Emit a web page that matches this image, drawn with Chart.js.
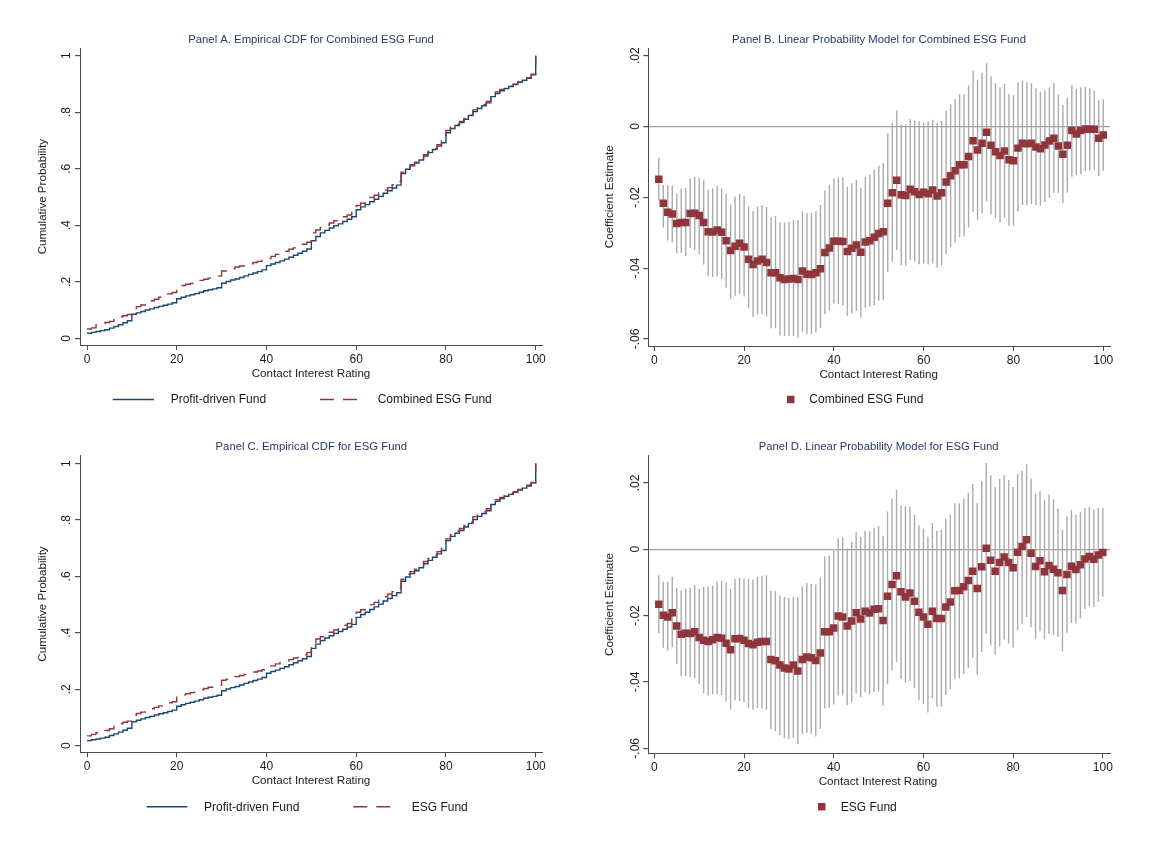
<!DOCTYPE html>
<html><head><meta charset="utf-8">
<script src="https://cdn.jsdelivr.net/npm/chart.js@4.4.1/dist/chart.umd.min.js"></script>
<style>
html,body{margin:0;padding:0;background:#fff;}
body{width:1170px;height:850px;position:relative;overflow:hidden;}
canvas{position:absolute;}
</style></head><body>
<canvas id="pA" width="585" height="425" style="left:0px;top:0px"></canvas>
<canvas id="pB" width="585" height="425" style="left:585px;top:0px"></canvas>
<canvas id="pC" width="585" height="425" style="left:0px;top:425px"></canvas>
<canvas id="pD" width="585" height="425" style="left:585px;top:425px"></canvas>
<script>
// ---------- DATA ----------
const cdfRatings = [0,1,2,3,4,5,6,7,8,9,10,11,12,13,14,15,16,17,18,19,20,21,22,23,24,25,26,27,28,29,30,31,32,33,34,35,36,37,38,39,40,41,42,43,44,45,46,47,48,49,50,51,52,53,54,55,56,57,58,59,60,61,62,63,64,65,66,67,68,69,70,71,72,73,74,75,76,77,78,79,80,81,82,83,84,85,86,87,88,89,90,91,92,93,94,95,96,97,98,99,100];

const profitCdf = [0.018,0.021,0.024,0.027,0.030,0.036,0.042,0.048,0.055,0.062,
0.085,0.090,0.095,0.100,0.104,0.109,0.113,0.117,0.121,0.126,
0.140,0.145,0.150,0.154,0.158,0.163,0.168,0.172,0.175,0.179,
0.195,0.201,0.206,0.210,0.215,0.221,0.226,0.231,0.236,0.242,
0.257,0.263,0.268,0.274,0.280,0.287,0.294,0.301,0.308,0.316,
0.345,0.360,0.373,0.382,0.390,0.398,0.405,0.413,0.421,0.430,
0.455,0.465,0.473,0.483,0.492,0.502,0.513,0.522,0.532,0.542,
0.583,0.598,0.610,0.620,0.631,0.645,0.657,0.668,0.680,0.692,
0.727,0.742,0.753,0.763,0.775,0.788,0.802,0.813,0.823,0.833,
0.855,0.866,0.876,0.884,0.891,0.898,0.906,0.913,0.920,0.932,1.000];

const combinedEsgCdf = [0.033,0.037,0.047,0.052,0.056,0.060,0.070,0.076,0.080,0.084,
0.105,0.112,0.118,0.126,0.133,0.138,0.145,0.152,0.157,0.162,
0.183,0.187,0.191,0.194,0.200,0.205,0.209,0.213,0.217,0.220,
0.238,0.243,0.247,0.252,0.256,0.260,0.264,0.268,0.272,0.276,
0.282,0.290,0.297,0.303,0.308,0.315,0.320,0.326,0.333,0.340,
0.373,0.383,0.392,0.400,0.408,0.416,0.424,0.430,0.436,0.448,
0.470,0.478,0.488,0.498,0.506,0.514,0.524,0.533,0.543,0.555,
0.588,0.603,0.614,0.623,0.635,0.650,0.662,0.672,0.685,0.698,
0.735,0.748,0.757,0.767,0.778,0.790,0.808,0.818,0.827,0.838,
0.862,0.872,0.880,0.887,0.893,0.899,0.907,0.915,0.922,0.934,1.000];

const esgCdf = [0.035,0.040,0.046,0.050,0.054,0.060,0.072,0.078,0.083,0.087,
0.108,0.114,0.119,0.125,0.131,0.136,0.141,0.147,0.152,0.156,
0.175,0.180,0.184,0.188,0.193,0.198,0.203,0.207,0.211,0.214,
0.232,0.236,0.240,0.245,0.249,0.253,0.257,0.261,0.265,0.269,
0.276,0.283,0.290,0.295,0.300,0.305,0.311,0.317,0.322,0.330,
0.365,0.378,0.386,0.393,0.402,0.410,0.420,0.427,0.433,0.448,
0.473,0.482,0.492,0.500,0.508,0.516,0.528,0.537,0.546,0.557,
0.590,0.608,0.617,0.626,0.638,0.653,0.664,0.675,0.688,0.700,
0.733,0.748,0.760,0.770,0.781,0.793,0.812,0.820,0.829,0.840,
0.868,0.872,0.880,0.888,0.894,0.900,0.908,0.916,0.923,0.933,1.000];

const coefRatings = [1,2,3,4,5,6,7,8,9,10,11,12,13,14,15,16,17,18,19,20,21,22,23,24,25,26,27,28,29,30,31,32,33,34,35,36,37,38,39,40,41,42,43,44,45,46,47,48,49,50,51,52,53,54,55,56,57,58,59,60,61,62,63,64,65,66,67,68,69,70,71,72,73,74,75,76,77,78,79,80,81,82,83,84,85,86,87,88,89,90,91,92,93,94,95,96,97,98,99,100];

const coefCombined = [-0.0149,-0.0217,-0.0242,-0.0247,-0.0274,-0.0271,-0.0271,-0.0246,-0.0245,-0.0251,
-0.0271,-0.0297,-0.0298,-0.0292,-0.0299,-0.0323,-0.0350,-0.0338,-0.0330,-0.0340,
-0.0375,-0.0390,-0.0380,-0.0375,-0.0384,-0.0413,-0.0413,-0.0427,-0.0432,-0.0431,
-0.0429,-0.0432,-0.0408,-0.0417,-0.0418,-0.0413,-0.0402,-0.0356,-0.0343,-0.0324,
-0.0324,-0.0325,-0.0353,-0.0344,-0.0335,-0.0355,-0.0326,-0.0323,-0.0313,-0.0302,
-0.0297,-0.0217,-0.0187,-0.0152,-0.0193,-0.0195,-0.0177,-0.0184,-0.0192,-0.0186,
-0.0190,-0.0179,-0.0196,-0.0187,-0.0157,-0.0139,-0.0125,-0.0108,-0.0108,-0.0085,
-0.0040,-0.0066,-0.0047,-0.0016,-0.0053,-0.0071,-0.0082,-0.0069,-0.0094,-0.0097,
-0.0061,-0.0047,-0.0049,-0.0047,-0.0058,-0.0063,-0.0052,-0.0041,-0.0033,-0.0055,
-0.0078,-0.0053,-0.0011,-0.0021,-0.0011,-0.0007,-0.0008,-0.0008,-0.0033,-0.0024];

const ciHighCombined = [-0.0088,-0.0165,-0.0166,-0.0167,-0.0190,-0.0176,-0.0174,-0.0146,-0.0142,-0.0145,
-0.0152,-0.0178,-0.0175,-0.0167,-0.0175,-0.0190,-0.0220,-0.0198,-0.0190,-0.0196,
-0.0225,-0.0239,-0.0226,-0.0222,-0.0227,-0.0258,-0.0253,-0.0270,-0.0272,-0.0269,
-0.0265,-0.0264,-0.0239,-0.0245,-0.0244,-0.0239,-0.0222,-0.0181,-0.0165,-0.0147,
-0.0144,-0.0145,-0.0170,-0.0160,-0.0151,-0.0172,-0.0142,-0.0135,-0.0122,-0.0111,
-0.0104,-0.0019,0.0011,0.0045,0.0005,0.0005,0.0021,0.0017,0.0014,0.0012,
0.0014,0.0019,0.0011,0.0016,0.0045,0.0063,0.0077,0.0092,0.0091,0.0116,
0.0158,0.0132,0.0151,0.0179,0.0142,0.0123,0.0111,0.0121,0.0092,0.0089,
0.0125,0.0130,0.0125,0.0123,0.0108,0.0098,0.0102,0.0111,0.0123,0.0092,
0.0061,0.0081,0.0118,0.0106,0.0111,0.0113,0.0108,0.0102,0.0074,0.0077];

const ciLowCombined = [-0.0209,-0.0285,-0.0322,-0.0327,-0.0358,-0.0357,-0.0366,-0.0343,-0.0349,-0.0360,
-0.0390,-0.0423,-0.0425,-0.0423,-0.0430,-0.0455,-0.0487,-0.0478,-0.0473,-0.0480,
-0.0514,-0.0538,-0.0531,-0.0530,-0.0537,-0.0570,-0.0570,-0.0590,-0.0592,-0.0592,
-0.0592,-0.0597,-0.0580,-0.0587,-0.0586,-0.0582,-0.0569,-0.0530,-0.0519,-0.0500,
-0.0502,-0.0507,-0.0535,-0.0529,-0.0521,-0.0540,-0.0512,-0.0509,-0.0505,-0.0492,
-0.0489,-0.0410,-0.0382,-0.0349,-0.0392,-0.0393,-0.0377,-0.0381,-0.0389,-0.0387,
-0.0390,-0.0387,-0.0399,-0.0392,-0.0360,-0.0340,-0.0328,-0.0313,-0.0311,-0.0285,
-0.0241,-0.0263,-0.0245,-0.0212,-0.0248,-0.0259,-0.0272,-0.0258,-0.0280,-0.0280,
-0.0239,-0.0222,-0.0222,-0.0219,-0.0222,-0.0224,-0.0214,-0.0201,-0.0187,-0.0187,
-0.0216,-0.0187,-0.0142,-0.0137,-0.0134,-0.0125,-0.0124,-0.0123,-0.0140,-0.0125];

const coefEsg = [-0.0166,-0.0199,-0.0204,-0.0191,-0.0231,-0.0256,-0.0253,-0.0254,-0.0249,-0.0266,
-0.0274,-0.0278,-0.0273,-0.0266,-0.0268,-0.0283,-0.0303,-0.0270,-0.0269,-0.0274,
-0.0284,-0.0288,-0.0280,-0.0278,-0.0278,-0.0332,-0.0336,-0.0349,-0.0358,-0.0361,
-0.0349,-0.0367,-0.0332,-0.0325,-0.0327,-0.0335,-0.0313,-0.0249,-0.0249,-0.0237,
-0.0201,-0.0204,-0.0231,-0.0216,-0.0191,-0.0210,-0.0187,-0.0192,-0.0181,-0.0179,
-0.0215,-0.0142,-0.0106,-0.0080,-0.0128,-0.0144,-0.0132,-0.0157,-0.0190,-0.0204,
-0.0226,-0.0187,-0.0209,-0.0209,-0.0174,-0.0159,-0.0125,-0.0124,-0.0113,-0.0094,
-0.0066,-0.0118,-0.0053,0.0003,-0.0033,-0.0066,-0.0040,-0.0023,-0.0040,-0.0056,
-0.0009,0.0008,0.0029,-0.0012,-0.0052,-0.0035,-0.0068,-0.0049,-0.0060,-0.0071,
-0.0124,-0.0076,-0.0051,-0.0061,-0.0047,-0.0029,-0.0022,-0.0030,-0.0017,-0.0010];

const ciHighEsg = [-0.0078,-0.0098,-0.0098,-0.0083,-0.0116,-0.0125,-0.0118,-0.0116,-0.0108,-0.0120,
-0.0113,-0.0112,-0.0110,-0.0098,-0.0095,-0.0100,-0.0120,-0.0089,-0.0086,-0.0088,
-0.0090,-0.0092,-0.0083,-0.0080,-0.0078,-0.0124,-0.0126,-0.0140,-0.0145,-0.0147,
-0.0144,-0.0145,-0.0112,-0.0102,-0.0104,-0.0106,-0.0086,-0.0021,-0.0019,-0.0005,
0.0033,0.0035,0.0003,0.0023,0.0051,0.0037,0.0056,0.0054,0.0064,0.0070,
0.0040,0.0114,0.0152,0.0179,0.0131,0.0129,0.0128,0.0104,0.0072,0.0062,
0.0038,0.0079,0.0056,0.0058,0.0092,0.0104,0.0139,0.0139,0.0152,0.0170,
0.0197,0.0139,0.0205,0.0260,0.0223,0.0187,0.0212,0.0223,0.0209,0.0188,
0.0227,0.0237,0.0256,0.0213,0.0167,0.0175,0.0148,0.0165,0.0150,0.0122,
0.0059,0.0099,0.0119,0.0104,0.0112,0.0124,0.0127,0.0120,0.0124,0.0124];

const ciLowEsg = [-0.0253,-0.0297,-0.0305,-0.0295,-0.0345,-0.0383,-0.0383,-0.0385,-0.0389,-0.0405,
-0.0434,-0.0441,-0.0438,-0.0437,-0.0439,-0.0459,-0.0484,-0.0455,-0.0457,-0.0462,
-0.0479,-0.0484,-0.0479,-0.0480,-0.0484,-0.0542,-0.0548,-0.0560,-0.0569,-0.0573,
-0.0568,-0.0588,-0.0557,-0.0553,-0.0556,-0.0564,-0.0542,-0.0480,-0.0478,-0.0468,
-0.0441,-0.0441,-0.0470,-0.0460,-0.0435,-0.0446,-0.0431,-0.0437,-0.0430,-0.0429,
-0.0472,-0.0407,-0.0365,-0.0340,-0.0391,-0.0402,-0.0397,-0.0418,-0.0455,-0.0467,
-0.0492,-0.0449,-0.0475,-0.0475,-0.0439,-0.0422,-0.0391,-0.0389,-0.0377,-0.0358,
-0.0328,-0.0378,-0.0310,-0.0255,-0.0290,-0.0317,-0.0292,-0.0272,-0.0284,-0.0297,
-0.0244,-0.0225,-0.0204,-0.0234,-0.0270,-0.0247,-0.0272,-0.0255,-0.0258,-0.0264,
-0.0307,-0.0252,-0.0222,-0.0224,-0.0209,-0.0179,-0.0171,-0.0175,-0.0159,-0.0143];

const xTickValues = [0,20,40,60,80,100];
const xTickLabels = ['0','20','40','60','80','100'];
const cdfTickValues = [0,0.2,0.4,0.6,0.8,1];
const cdfTickLabels = ['0','.2','.4','.6','.8','1'];
const coefTickValues = [-0.06,-0.04,-0.02,0,0.02];
const coefTickLabels = ['-.06','-.04','-.02','0','.02'];

// ---------- STYLE ----------
const FONT = '"Liberation Sans", Arial, Helvetica, sans-serif';
const NAVY = '#1a476f';
const MAROON = '#90353b';
const SPIKE = '#ababab';
const AXIS = '#4a4a4a';
const TEXT = '#1a1a1a';
const TITLE = '#27386b';
const RED_DASH = [14, 9];

const decor = {
  id: 'decor',
  afterDraw(chart, args, o) {
    const ctx = chart.ctx;
    const ox = o.ox, oy = o.oy;
    ctx.save();
    ctx.textAlign = 'center';
    ctx.textBaseline = 'middle';
    ctx.fillStyle = TITLE;
    ctx.font = '11.3px ' + FONT;
    ctx.fillText(o.title, o.titleX - ox, o.titleY - oy);
    ctx.fillStyle = TEXT;
    ctx.font = '11.6px ' + FONT;
    ctx.fillText(o.xTitle, o.xTitleX - ox, o.xTitleY - oy);
    ctx.save();
    ctx.translate(o.yTitleX - ox, o.yTitleY - oy);
    ctx.rotate(-Math.PI / 2);
    ctx.fillText(o.yTitle, 0, 0);
    ctx.restore();
    const ys = chart.scales.y;
    ctx.font = '12px ' + FONT;
    o.yTickValues.forEach((v, i) => {
      const py = ys.getPixelForValue(v);
      ctx.save();
      ctx.translate(o.yTickX - ox, py);
      ctx.rotate(-Math.PI / 2);
      ctx.fillText(o.yTickLabels[i], 0, 0);
      ctx.restore();
    });
    ctx.textAlign = 'left';
    ctx.font = '12px ' + FONT;
    o.legend.forEach(it => {
      const y = it.y - oy;
      if (it.kind === 'line') {
        ctx.save();
        ctx.strokeStyle = it.color;
        ctx.lineWidth = 1.4;
        ctx.setLineDash(it.dash || []);
        ctx.beginPath();
        ctx.moveTo(it.x1 - ox, y);
        ctx.lineTo(it.x2 - ox, y);
        ctx.stroke();
        ctx.restore();
      } else {
        ctx.fillStyle = it.color;
        ctx.fillRect(it.cx - ox - it.size / 2, y - it.size / 2, it.size, it.size);
      }
      ctx.fillStyle = TEXT;
      ctx.fillText(it.text, it.tx - ox, y + 0.5);
    });
    ctx.restore();
  }
};

function makePanel(p) {
  const el = document.getElementById(p.id);
  const padTop = p.area.t - p.box.top;
  const padRight = p.box.left + p.box.w - p.area.r;
  const yWidth = p.area.l - p.box.left;
  const xHeight = p.box.top + p.box.h - p.area.b;
  const yGridColor = p.zeroLine
    ? (c => (c.tick && c.tick.value === 0 ? '#a0a0a0' : 'rgba(0,0,0,0)'))
    : 'rgba(0,0,0,0)';
  new Chart(el, {
    type: 'scatter',
    data: { datasets: p.datasets },
    options: {
      responsive: false,
      animation: false,
      devicePixelRatio: 1,
      layout: { autoPadding: false, padding: { left: 0, top: padTop, right: padRight, bottom: 0 } },
      plugins: {
        legend: { display: false },
        tooltip: { enabled: false },
        title: { display: false },
        decor: Object.assign({ ox: p.box.left, oy: p.box.top }, p.decor)
      },
      scales: {
        x: {
          type: 'linear', min: p.xMin, max: p.xMax, offset: false,
          afterFit: s => { s.height = xHeight; },
          afterBuildTicks: s => { s.ticks = xTickValues.map(v => ({ value: v })); },
          ticks: {
            autoSkip: false, maxRotation: 0, minRotation: 0, padding: 2,
            color: TEXT, font: { family: FONT, size: 12 },
            callback: (v) => xTickLabels[xTickValues.indexOf(v)]
          },
          grid: { display: true, drawOnChartArea: false, drawTicks: true, tickLength: 5, tickColor: AXIS, offset: false },
          border: { display: true, color: AXIS, width: 1 }
        },
        y: {
          type: 'linear', min: p.yMin, max: p.yMax,
          afterFit: s => { s.width = yWidth; },
          afterBuildTicks: s => { s.ticks = p.decor.yTickValues.map(v => ({ value: v })); },
          ticks: { display: false },
          grid: { display: true, drawOnChartArea: !!p.zeroLine, color: yGridColor, lineWidth: 1.2, drawTicks: true, tickLength: 5, tickColor: AXIS },
          border: { display: true, color: AXIS, width: 1 }
        }
      }
    },
    plugins: [decor]
  });
}

function cdfLine(values, color, dash, order) {
  return {
    type: 'line',
    data: values.map((v, i) => ({ x: cdfRatings[i], y: v })),
    borderColor: color, borderWidth: 1.4, borderDash: dash,
    pointRadius: 0, stepped: 'before', fill: false, tension: 0, order: order
  };
}
function coefSets(coef, lo, hi) {
  return [
    {
      type: 'scatter',
      data: coef.map((v, i) => ({ x: coefRatings[i], y: v })),
      pointStyle: 'rect', pointRadius: 5.3, pointBackgroundColor: MAROON,
      pointBorderColor: MAROON, pointBorderWidth: 0, order: 1
    },
    {
      type: 'bar',
      data: lo.map((v, i) => ({ x: coefRatings[i], y: [v, hi[i]] })),
      backgroundColor: SPIKE, borderWidth: 0, barThickness: 1.4, inflateAmount: 0,
      grouped: false, order: 2
    }
  ];
}

makePanel({
  id: 'pA', box: { left: 0, top: 0, w: 585, h: 425 }, area: { l: 80, t: 48.3, r: 542, b: 345 },
  xMin: -1.56, xMax: 101.4, yMin: -0.0237, yMax: 1.026,
  datasets: [cdfLine(combinedEsgCdf, MAROON, RED_DASH, 1), cdfLine(profitCdf, NAVY, [], 2)],
  decor: {
    title: 'Panel A. Empirical CDF for Combined ESG Fund', titleX: 311, titleY: 39.5,
    xTitle: 'Contact Interest Rating', xTitleX: 311, xTitleY: 373.5,
    yTitle: 'Cumulative Probability', yTitleX: 43, yTitleY: 196.7,
    yTickX: 66.7, yTickValues: cdfTickValues, yTickLabels: cdfTickLabels,
    legend: [
      { kind: 'line', x1: 112.7, x2: 154, y: 399.5, color: NAVY, text: 'Profit-driven Fund', tx: 170.7 },
      { kind: 'line', x1: 320, x2: 360, y: 399.5, color: MAROON, dash: RED_DASH, text: 'Combined ESG Fund', tx: 377.7 }
    ]
  }
});

makePanel({
  id: 'pB', box: { left: 585, top: 0, w: 585, h: 425 }, area: { l: 648.3, t: 48.3, r: 1110, b: 346 },
  xMin: -1.34, xMax: 101.5, yMin: -0.062, yMax: 0.0221, zeroLine: true,
  datasets: coefSets(coefCombined, ciLowCombined, ciHighCombined),
  decor: {
    title: 'Panel B. Linear Probability Model for Combined ESG Fund', titleX: 879, titleY: 39.5,
    xTitle: 'Contact Interest Rating', xTitleX: 878.7, xTitleY: 374.3,
    yTitle: 'Coefficient Estimate', yTitleX: 610, yTitleY: 196.7,
    yTickX: 635.5, yTickValues: coefTickValues, yTickLabels: coefTickLabels,
    legend: [
      { kind: 'rect', cx: 790.7, size: 7.5, y: 399.5, color: MAROON, text: 'Combined ESG Fund', tx: 809.3 }
    ]
  }
});

makePanel({
  id: 'pC', box: { left: 0, top: 425, w: 585, h: 425 }, area: { l: 80, t: 455.7, r: 542, b: 752.3 },
  xMin: -1.56, xMax: 101.4, yMin: -0.0234, yMax: 1.028,
  datasets: [cdfLine(esgCdf, MAROON, RED_DASH, 1), cdfLine(profitCdf, NAVY, [], 2)],
  decor: {
    title: 'Panel C. Empirical CDF for ESG Fund', titleX: 311.3, titleY: 447.3,
    xTitle: 'Contact Interest Rating', xTitleX: 311, xTitleY: 780.7,
    yTitle: 'Cumulative Probability', yTitleX: 43, yTitleY: 604,
    yTickX: 66.7, yTickValues: cdfTickValues, yTickLabels: cdfTickLabels,
    legend: [
      { kind: 'line', x1: 146.7, x2: 187.3, y: 806.7, color: NAVY, text: 'Profit-driven Fund', tx: 204 },
      { kind: 'line', x1: 353.3, x2: 393.3, y: 806.7, color: MAROON, dash: RED_DASH, text: 'ESG Fund', tx: 411.7 }
    ]
  }
});

makePanel({
  id: 'pD', box: { left: 585, top: 425, w: 585, h: 425 }, area: { l: 648.3, t: 455.7, r: 1110, b: 753.3 },
  xMin: -1.34, xMax: 101.6, yMin: -0.0615, yMax: 0.0282, zeroLine: true,
  datasets: coefSets(coefEsg, ciLowEsg, ciHighEsg),
  decor: {
    title: 'Panel D. Linear Probability Model for ESG Fund', titleX: 878.7, titleY: 447.3,
    xTitle: 'Contact Interest Rating', xTitleX: 878, xTitleY: 781.7,
    yTitle: 'Coefficient Estimate', yTitleX: 610, yTitleY: 604.5,
    yTickX: 635.5, yTickValues: coefTickValues, yTickLabels: coefTickLabels,
    legend: [
      { kind: 'rect', cx: 821.7, size: 7.5, y: 806.7, color: MAROON, text: 'ESG Fund', tx: 840.7 }
    ]
  }
});
</script>
</body></html>
